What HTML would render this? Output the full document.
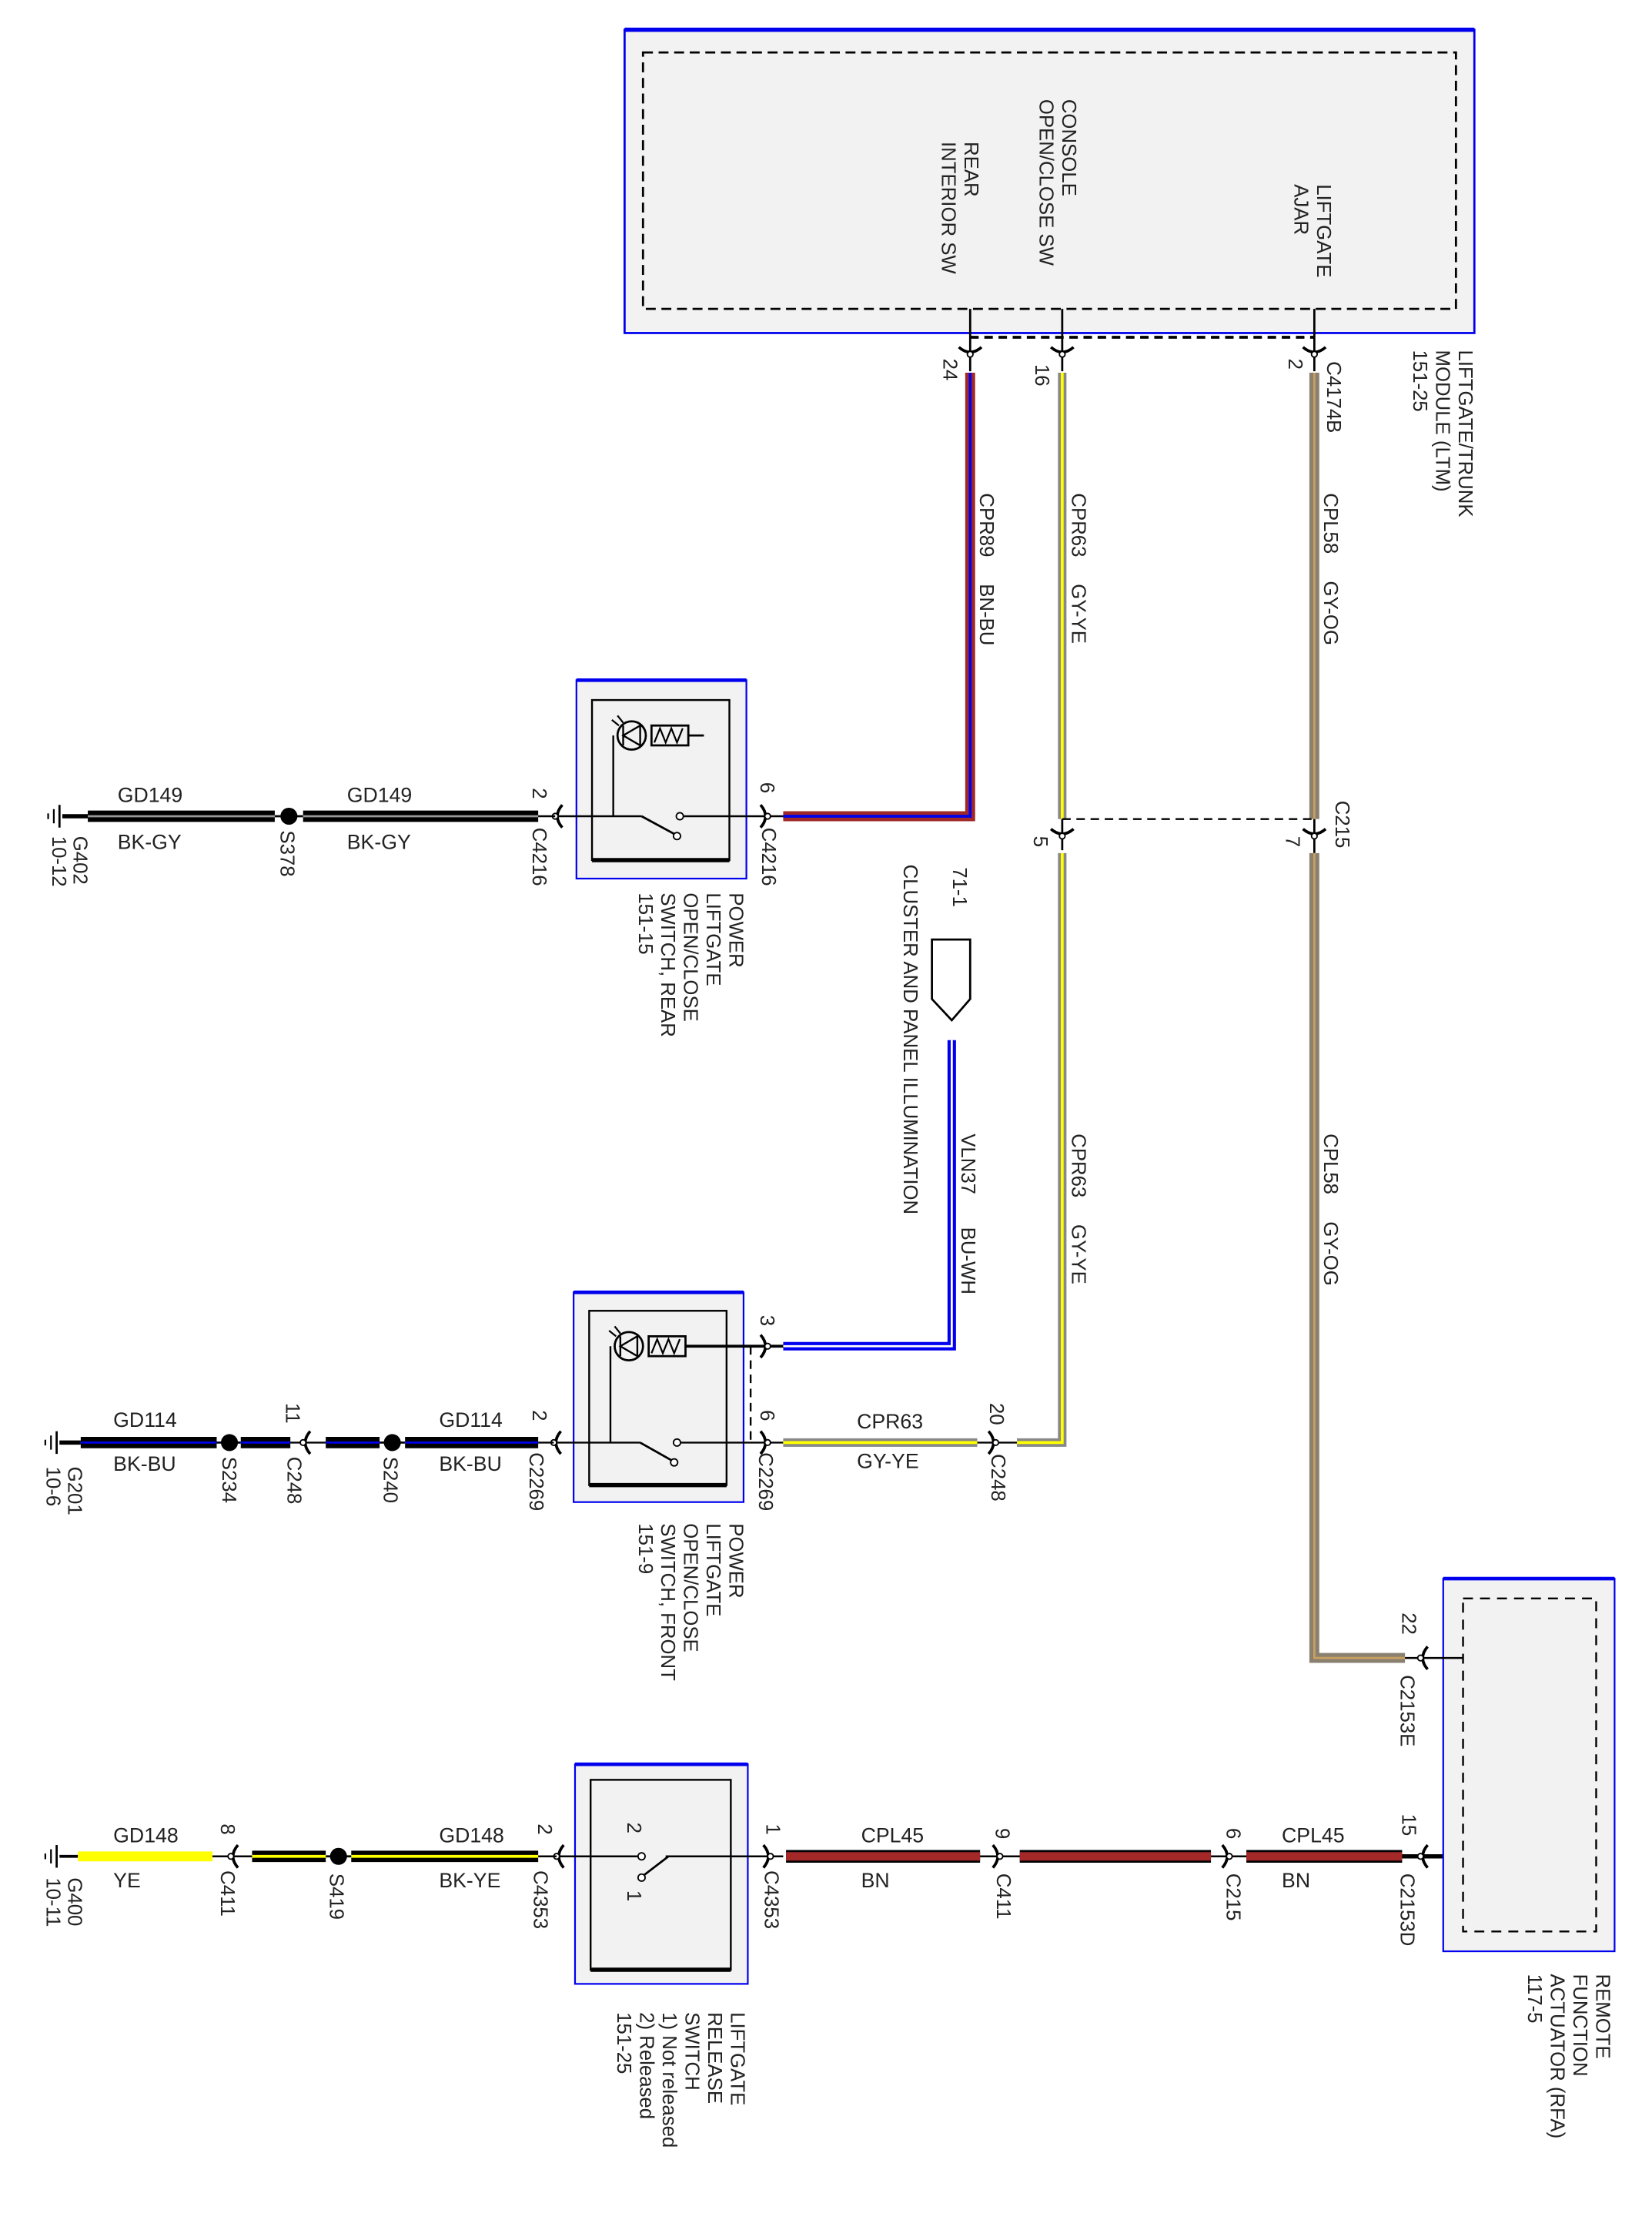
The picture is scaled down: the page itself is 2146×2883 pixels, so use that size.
<!DOCTYPE html>
<html><head><meta charset="utf-8"><style>
html,body{margin:0;padding:0;background:#fff}
svg{display:block}
text{font-family:"Liberation Sans",sans-serif;fill:#222}
.r{font-size:14px}
.h{font-size:14.5px}
</style></head><body>
<svg width="2146" height="2883" viewBox="0 0 1160 1558" preserveAspectRatio="none" xmlns="http://www.w3.org/2000/svg">
<defs>
<g id="cR"><path d="M-5,-8 Q2,0 -5,8" fill="none" stroke="#000" stroke-width="2"/><circle cx="0" cy="0" r="2" fill="#fff" stroke="#000" stroke-width="1"/></g>
<g id="cL"><path d="M5,-8 Q-2,0 5,8" fill="none" stroke="#000" stroke-width="2"/><circle cx="0" cy="0" r="2" fill="#fff" stroke="#000" stroke-width="1"/></g>
<g id="cD"><path d="M-8,-5 Q0,2 8,-5" fill="none" stroke="#000" stroke-width="2"/><circle cx="0" cy="0" r="2" fill="#fff" stroke="#000" stroke-width="1"/></g>
<g id="gnd"><line x1="0" y1="-8" x2="0" y2="8" stroke="#000" stroke-width="1.5"/><line x1="-4" y1="-5" x2="-4" y2="5" stroke="#000" stroke-width="1.2"/><line x1="-8" y1="-2" x2="-8" y2="2" stroke="#000" stroke-width="1.2"/></g>
<g id="lamp"><circle cx="0" cy="0" r="10" fill="none" stroke="#000" stroke-width="1.5"/><path d="M-6,-7 L-6,7 M-6,0 L6,-7 L6,7 Z" fill="none" stroke="#000" stroke-width="1.3"/><path d="M-10,-14 L-6,-9 M-14,-11 L-9,-7" stroke="#000" stroke-width="1.2"/><rect x="14" y="-7" width="26" height="14" fill="none" stroke="#000" stroke-width="1.5"/><path d="M16,5 L20,-5 L24,5 L28,-5 L32,5 L36,-5" fill="none" stroke="#000" stroke-width="1.2"/></g>
</defs>
<g transform="scale(0.9945)">
<!-- LTM box -->
<rect x="441" y="21" width="600" height="214" fill="#f2f2f2" stroke="#0000ee" stroke-width="1.5"/>
<line x1="441" y1="21" x2="1041" y2="21" stroke="#0000ee" stroke-width="3"/>
<rect x="454" y="37" width="574" height="181" fill="none" stroke="#000" stroke-width="1.5" stroke-dasharray="7,4"/>
<text class="r" transform="translate(681,100) rotate(90)">REAR</text>
<text class="r" transform="translate(665,100) rotate(90)">INTERIOR SW</text>
<text class="r" transform="translate(750,70) rotate(90)">CONSOLE</text>
<text class="r" transform="translate(734,70) rotate(90)">OPEN/CLOSE SW</text>
<text class="r" transform="translate(930,130) rotate(90)">LIFTGATE</text>
<text class="r" transform="translate(914,130) rotate(90)">AJAR</text>
<line x1="685" y1="218" x2="685" y2="262" stroke="#000" stroke-width="1.5"/>
<line x1="750" y1="218" x2="750" y2="262" stroke="#000" stroke-width="1.5"/>
<line x1="928" y1="218" x2="928" y2="262" stroke="#000" stroke-width="1.5"/>
<line x1="685" y1="238" x2="928" y2="238" stroke="#000" stroke-width="2" stroke-dasharray="6,4"/>
<use href="#cD" x="685" y="250"/><use href="#cD" x="750" y="250"/><use href="#cD" x="928" y="250"/>
<text class="r" transform="translate(666,253) rotate(90)">24</text>
<text class="r" transform="translate(731,257) rotate(90)">16</text>
<text class="r" transform="translate(910,253) rotate(90)">2</text>
<text class="r" transform="translate(937,255) rotate(90)">C4174B</text>
<text class="r" transform="translate(1030,247) rotate(90)">LIFTGATE/TRUNK</text>
<text class="r" transform="translate(1014,247) rotate(90)">MODULE (LTM)</text>
<text class="r" transform="translate(998,247) rotate(90)">151-25</text>

<!-- CPR89 BN-BU -->
<path d="M685,263 L685,576 L553,576" fill="none" stroke="#a02828" stroke-width="7"/>
<path d="M685,263 L685,576 L553,576" fill="none" stroke="#0000ee" stroke-width="2"/>
<text class="r" transform="translate(692,348) rotate(90)">CPR89</text>
<text class="r" transform="translate(692,412) rotate(90)">BN-BU</text>

<!-- CPR63 GY-YE vertical -->
<line x1="750" y1="263" x2="750" y2="578" stroke="#888" stroke-width="6"/>
<line x1="750" y1="263" x2="750" y2="578" stroke="#ffff00" stroke-width="2"/>
<text class="r" transform="translate(757,348) rotate(90)">CPR63</text>
<text class="r" transform="translate(757,412) rotate(90)">GY-YE</text>
<line x1="750" y1="578" x2="750" y2="600" stroke="#000" stroke-width="1.5"/>
<use href="#cD" x="750" y="590"/>
<text class="r" transform="translate(730,590) rotate(90)">5</text>
<path d="M750,602 L750,1018 L718,1018" fill="none" stroke="#888" stroke-width="6"/>
<path d="M750,602 L750,1018 L718,1018" fill="none" stroke="#ffff00" stroke-width="2"/>
<text class="r" transform="translate(757,800) rotate(90)">CPR63</text>
<text class="r" transform="translate(757,864) rotate(90)">GY-YE</text>

<!-- CPL58 GY-OG -->
<line x1="928" y1="263" x2="928" y2="578" stroke="#8a8070" stroke-width="7"/>
<line x1="928" y1="263" x2="928" y2="578" stroke="#c9a060" stroke-width="1.5"/>
<text class="r" transform="translate(935,348) rotate(90)">CPL58</text>
<text class="r" transform="translate(935,410) rotate(90)">GY-OG</text>
<line x1="928" y1="578" x2="928" y2="602" stroke="#000" stroke-width="1.5"/>
<use href="#cD" x="928" y="590"/>
<text class="r" transform="translate(908,590) rotate(90)">7</text>
<text class="r" transform="translate(943,565) rotate(90)">C215</text>
<line x1="750" y1="578" x2="928" y2="578" stroke="#000" stroke-width="1.3" stroke-dasharray="6,4"/>
<path d="M928,602 L928,1170 L992,1170" fill="none" stroke="#8a8070" stroke-width="7"/>
<path d="M928,602 L928,1170 L992,1170" fill="none" stroke="#c9a060" stroke-width="1.5"/>
<text class="r" transform="translate(935,800) rotate(90)">CPL58</text>
<text class="r" transform="translate(935,862) rotate(90)">GY-OG</text>

<!-- Rear switch -->
<rect x="407" y="480" width="120" height="140" fill="#f2f2f2" stroke="#0000ee" stroke-width="1.2"/>
<line x1="407" y1="480" x2="527" y2="480" stroke="#0000ee" stroke-width="2.5"/>
<rect x="418" y="494" width="97" height="113" fill="none" stroke="#000" stroke-width="1.3"/>
<line x1="418" y1="607" x2="515" y2="607" stroke="#000" stroke-width="3"/>
<use href="#lamp" x="446" y="519"/>
<line x1="486" y1="519" x2="497" y2="519" stroke="#000" stroke-width="1.5"/>
<line x1="433" y1="519" x2="433" y2="576" stroke="#000" stroke-width="1.3"/>
<line x1="392" y1="576" x2="453" y2="576" stroke="#000" stroke-width="1.3"/>
<line x1="453" y1="576" x2="477" y2="589" stroke="#000" stroke-width="1.5"/>
<circle cx="478" cy="590" r="2.5" fill="#fff" stroke="#000"/><circle cx="480" cy="576" r="2.5" fill="#fff" stroke="#000"/>
<line x1="483" y1="576" x2="553" y2="576" stroke="#000" stroke-width="1.3"/>
<use href="#cL" x="392" y="576"/><use href="#cR" x="542" y="576"/>
<text class="r" transform="translate(376,556) rotate(90)">2</text>
<text class="r" transform="translate(537,552) rotate(90)">6</text>
<text class="r" transform="translate(376,584) rotate(90)">C4216</text>
<text class="r" transform="translate(538,584) rotate(90)">C4216</text>
<text class="r" transform="translate(515,630) rotate(90)">POWER</text>
<text class="r" transform="translate(499,630) rotate(90)">LIFTGATE</text>
<text class="r" transform="translate(483,630) rotate(90)">OPEN/CLOSE</text>
<text class="r" transform="translate(467,630) rotate(90)">SWITCH, REAR</text>
<text class="r" transform="translate(451,630) rotate(90)">151-15</text>

<!-- GD149 -->
<line x1="44" y1="576" x2="62" y2="576" stroke="#000" stroke-width="3"/>
<use href="#gnd" x="42" y="576"/>
<line x1="62" y1="576" x2="380" y2="576" stroke="#000" stroke-width="8"/>
<line x1="62" y1="576" x2="380" y2="576" stroke="#999" stroke-width="1.5"/>
<line x1="194" y1="576" x2="214" y2="576" stroke="#fff" stroke-width="9"/>
<line x1="194" y1="576" x2="214" y2="576" stroke="#000" stroke-width="1.5"/>
<circle cx="204" cy="576" r="6" fill="#000"/>
<line x1="380" y1="576" x2="392" y2="576" stroke="#000" stroke-width="1.3"/>
<text class="h" x="83" y="566">GD149</text><text class="h" x="83" y="599">BK-GY</text>
<text class="h" x="245" y="566">GD149</text><text class="h" x="245" y="599">BK-GY</text>
<text class="r" transform="translate(198,586) rotate(90)">S378</text>
<text class="r" transform="translate(52,590) rotate(90)">G402</text>
<text class="r" transform="translate(37,590) rotate(90)">10-12</text>

<!-- Cluster -->
<text class="r" transform="translate(673,612) rotate(90)">71-1</text>
<text class="r" transform="translate(638,610) rotate(90)">CLUSTER AND PANEL ILLUMINATION</text>
<path d="M658,663 L685,663 L685,705 L672,720 L658,705 Z" fill="#fff" stroke="#000" stroke-width="1.5"/>
<path d="M672,734 L672,950 L553,950" fill="none" stroke="#0000ee" stroke-width="6"/>
<path d="M672,734 L672,950 L553,950" fill="none" stroke="#fff" stroke-width="1.5"/>
<text class="r" transform="translate(679,800) rotate(90)">VLN37</text>
<text class="r" transform="translate(679,866) rotate(90)">BU-WH</text>

<!-- Front switch -->
<rect x="405" y="912" width="120" height="148" fill="#f2f2f2" stroke="#0000ee" stroke-width="1.2"/>
<line x1="405" y1="912" x2="525" y2="912" stroke="#0000ee" stroke-width="2.5"/>
<rect x="416" y="925" width="97" height="123" fill="none" stroke="#000" stroke-width="1.3"/>
<line x1="416" y1="1048" x2="513" y2="1048" stroke="#000" stroke-width="3"/>
<use href="#lamp" x="444" y="950"/>
<line x1="484" y1="950" x2="553" y2="950" stroke="#000" stroke-width="2"/>
<line x1="431" y1="950" x2="431" y2="1018" stroke="#000" stroke-width="1.3"/>
<line x1="390" y1="1018" x2="452" y2="1018" stroke="#000" stroke-width="1.3"/>
<line x1="452" y1="1018" x2="475" y2="1031" stroke="#000" stroke-width="1.5"/>
<circle cx="476" cy="1032" r="2.5" fill="#fff" stroke="#000"/><circle cx="478" cy="1018" r="2.5" fill="#fff" stroke="#000"/>
<line x1="481" y1="1018" x2="553" y2="1018" stroke="#000" stroke-width="1.3"/>
<line x1="530" y1="950" x2="530" y2="1018" stroke="#000" stroke-width="1.3" stroke-dasharray="6,4"/>
<use href="#cL" x="391" y="1018"/><use href="#cR" x="542" y="1018"/><use href="#cR" x="542" y="950"/>
<text class="r" transform="translate(376,995) rotate(90)">2</text>
<text class="r" transform="translate(537,995) rotate(90)">6</text>
<text class="r" transform="translate(537,928) rotate(90)">3</text>
<text class="r" transform="translate(374,1025) rotate(90)">C2269</text>
<text class="r" transform="translate(536,1025) rotate(90)">C2269</text>
<text class="r" transform="translate(515,1075) rotate(90)">POWER</text>
<text class="r" transform="translate(499,1075) rotate(90)">LIFTGATE</text>
<text class="r" transform="translate(483,1075) rotate(90)">OPEN/CLOSE</text>
<text class="r" transform="translate(467,1075) rotate(90)">SWITCH, FRONT</text>
<text class="r" transform="translate(451,1075) rotate(90)">151-9</text>
<!-- CPR63 horizontal -->
<line x1="553" y1="1018" x2="690" y2="1018" stroke="#888" stroke-width="6"/>
<line x1="553" y1="1018" x2="690" y2="1018" stroke="#ffff00" stroke-width="2"/>
<line x1="690" y1="1018" x2="718" y2="1018" stroke="#000" stroke-width="1.3"/>
<use href="#cR" x="703" y="1018"/>
<text class="r" transform="translate(699,990) rotate(90)">20</text>
<text class="r" transform="translate(700,1026) rotate(90)">C248</text>
<text class="h" x="605" y="1008">CPR63</text><text class="h" x="605" y="1036">GY-YE</text>

<!-- GD114 -->
<use href="#gnd" x="40" y="1018"/>
<line x1="42" y1="1018" x2="57" y2="1018" stroke="#000" stroke-width="3"/>
<line x1="57" y1="1018" x2="205" y2="1018" stroke="#000" stroke-width="8"/>
<line x1="57" y1="1018" x2="205" y2="1018" stroke="#0000ee" stroke-width="1.5"/>
<line x1="230" y1="1018" x2="380" y2="1018" stroke="#000" stroke-width="8"/>
<line x1="230" y1="1018" x2="380" y2="1018" stroke="#0000ee" stroke-width="1.5"/>
<line x1="153" y1="1018" x2="170" y2="1018" stroke="#fff" stroke-width="9"/>
<line x1="268" y1="1018" x2="286" y2="1018" stroke="#fff" stroke-width="9"/>
<line x1="153" y1="1018" x2="170" y2="1018" stroke="#000" stroke-width="1.5"/>
<line x1="268" y1="1018" x2="286" y2="1018" stroke="#000" stroke-width="1.5"/>
<circle cx="162" cy="1018" r="6" fill="#000"/><circle cx="277" cy="1018" r="6" fill="#000"/>
<line x1="205" y1="1018" x2="230" y2="1018" stroke="#000" stroke-width="1.3"/>
<line x1="380" y1="1018" x2="391" y2="1018" stroke="#000" stroke-width="1.3"/>
<use href="#cL" x="214" y="1018"/>
<text class="r" transform="translate(202,990) rotate(90)">11</text>
<text class="h" x="80" y="1007">GD114</text><text class="h" x="80" y="1038">BK-BU</text>
<text class="h" x="310" y="1007">GD114</text><text class="h" x="310" y="1038">BK-BU</text>
<text class="r" transform="translate(157,1028) rotate(90)">S234</text>
<text class="r" transform="translate(203,1028) rotate(90)">C248</text>
<text class="r" transform="translate(271,1028) rotate(90)">S240</text>
<text class="r" transform="translate(48,1035) rotate(90)">G201</text>
<text class="r" transform="translate(33,1035) rotate(90)">10-6</text>

<!-- Release switch -->
<rect x="406" y="1245" width="122" height="155" fill="#f2f2f2" stroke="#0000ee" stroke-width="1.2"/>
<line x1="406" y1="1245" x2="528" y2="1245" stroke="#0000ee" stroke-width="2.5"/>
<rect x="417" y="1256" width="99" height="134" fill="none" stroke="#000" stroke-width="1.3"/>
<line x1="417" y1="1390" x2="516" y2="1390" stroke="#000" stroke-width="3"/>
<line x1="393" y1="1310" x2="450" y2="1310" stroke="#000" stroke-width="1.3"/>
<circle cx="453" cy="1310" r="2.5" fill="#fff" stroke="#000"/>
<circle cx="453" cy="1325" r="2.5" fill="#fff" stroke="#000"/>
<line x1="455" y1="1323" x2="472" y2="1310" stroke="#000" stroke-width="1.5"/>
<line x1="470" y1="1310" x2="553" y2="1310" stroke="#000" stroke-width="1.3"/>
<text class="r" transform="translate(443,1286) rotate(90)">2</text>
<text class="r" transform="translate(443,1334) rotate(90)">1</text>
<use href="#cL" x="393" y="1310"/><use href="#cR" x="544" y="1310"/>
<text class="r" transform="translate(380,1287) rotate(90)">2</text>
<text class="r" transform="translate(541,1287) rotate(90)">1</text>
<text class="r" transform="translate(377,1320) rotate(90)">C4353</text>
<text class="r" transform="translate(540,1320) rotate(90)">C4353</text>
<text class="r" transform="translate(516,1420) rotate(90)">LIFTGATE</text>
<text class="r" transform="translate(500,1420) rotate(90)">RELEASE</text>
<text class="r" transform="translate(484,1420) rotate(90)">SWITCH</text>
<text class="r" transform="translate(468,1420) rotate(90)">1) Not released</text>
<text class="r" transform="translate(452,1420) rotate(90)">2) Released</text>
<text class="r" transform="translate(436,1420) rotate(90)">151-25</text>

<!-- GD148 -->
<use href="#gnd" x="40" y="1310"/>
<line x1="42" y1="1310" x2="55" y2="1310" stroke="#000" stroke-width="2"/>
<line x1="55" y1="1310" x2="150" y2="1310" stroke="#ffff00" stroke-width="7"/>
<line x1="150" y1="1310" x2="178" y2="1310" stroke="#000" stroke-width="1.3"/>
<use href="#cL" x="163" y="1310"/>
<line x1="178" y1="1310" x2="380" y2="1310" stroke="#000" stroke-width="8"/>
<line x1="178" y1="1310" x2="380" y2="1310" stroke="#ffff00" stroke-width="2"/>
<line x1="230" y1="1310" x2="248" y2="1310" stroke="#fff" stroke-width="9"/>
<line x1="230" y1="1310" x2="248" y2="1310" stroke="#000" stroke-width="1.5"/>
<circle cx="239" cy="1310" r="6" fill="#000"/>
<line x1="380" y1="1310" x2="393" y2="1310" stroke="#000" stroke-width="1.3"/>
<text class="r" transform="translate(156,1287) rotate(90)">8</text>
<text class="h" x="80" y="1300">GD148</text><text class="h" x="80" y="1332">YE</text>
<text class="h" x="310" y="1300">GD148</text><text class="h" x="310" y="1332">BK-YE</text>
<text class="r" transform="translate(156,1320) rotate(90)">C411</text>
<text class="r" transform="translate(233,1322) rotate(90)">S419</text>
<text class="r" transform="translate(48,1325) rotate(90)">G400</text>
<text class="r" transform="translate(33,1325) rotate(90)">10-11</text>

<!-- CPL45 BN -->
<g stroke="#000" stroke-width="9"><line x1="555" y1="1310" x2="692" y2="1310"/><line x1="720" y1="1310" x2="855" y2="1310"/><line x1="880" y1="1310" x2="990" y2="1310"/></g>
<g stroke="#a52828" stroke-width="6"><line x1="555" y1="1310" x2="692" y2="1310"/><line x1="720" y1="1310" x2="855" y2="1310"/><line x1="880" y1="1310" x2="990" y2="1310"/></g>
<g stroke="#000" stroke-width="1.3"><line x1="692" y1="1310" x2="720" y2="1310"/><line x1="855" y1="1310" x2="880" y2="1310"/><line x1="990" y1="1310" x2="1033" y2="1310" stroke-width="3"/></g>
<use href="#cR" x="706" y="1310"/><use href="#cR" x="868" y="1310"/><use href="#cL" x="1003" y="1310"/>
<text class="r" transform="translate(703,1290) rotate(90)">9</text>
<text class="r" transform="translate(866,1290) rotate(90)">6</text>
<text class="r" transform="translate(990,1280) rotate(90)">15</text>
<text class="r" transform="translate(704,1322) rotate(90)">C411</text>
<text class="r" transform="translate(866,1322) rotate(90)">C215</text>
<text class="r" transform="translate(989,1322) rotate(90)">C2153D</text>
<text class="h" x="608" y="1300">CPL45</text><text class="h" x="608" y="1332">BN</text>
<text class="h" x="905" y="1300">CPL45</text><text class="h" x="905" y="1332">BN</text>

<!-- RFA -->
<rect x="1019" y="1114" width="121" height="263" fill="#f2f2f2" stroke="#0000ee" stroke-width="1.2"/>
<line x1="1019" y1="1114" x2="1140" y2="1114" stroke="#0000ee" stroke-width="2.5"/>
<rect x="1033" y="1128" width="94" height="235" fill="none" stroke="#000" stroke-width="1.3" stroke-dasharray="7,5"/>
<line x1="992" y1="1170" x2="1033" y2="1170" stroke="#000" stroke-width="1.3"/>
<use href="#cL" x="1003" y="1170"/>
<text class="r" transform="translate(990,1138) rotate(90)">22</text>
<text class="r" transform="translate(989,1182) rotate(90)">C2153E</text>
<text class="r" transform="translate(1127,1393) rotate(90)">REMOTE</text>
<text class="r" transform="translate(1111,1393) rotate(90)">FUNCTION</text>
<text class="r" transform="translate(1095,1393) rotate(90)">ACTUATOR (RFA)</text>
<text class="r" transform="translate(1079,1393) rotate(90)">117-5</text>
</g>
</svg>
</body></html>
